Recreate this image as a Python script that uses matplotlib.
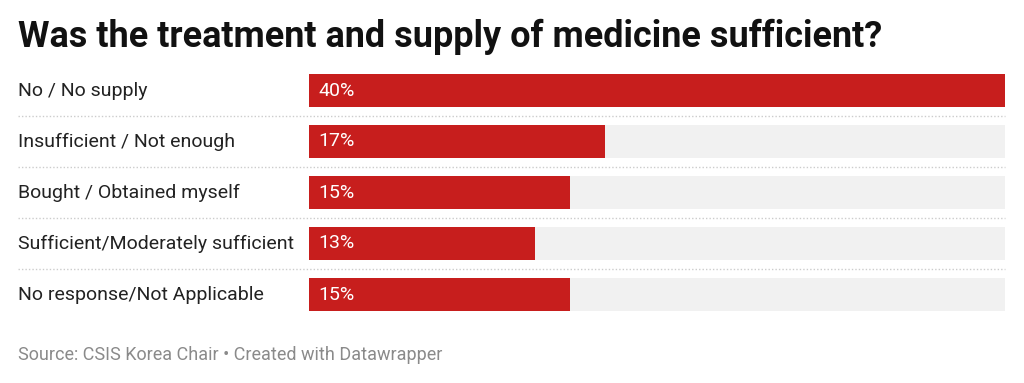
import matplotlib.pyplot as plt
import matplotlib.transforms as mtransforms

categories = ['No / No supply', 'Insufficient / Not enough', 'Bought / Obtained myself',
              'Sufficient/Moderately sufficient', 'No response/Not Applicable']
values = [40, 17, 15, 13, 15]
value_labels = ['40%', '17%', '15%', '13%', '15%']

plt.rcParams['font.family'] = ['Roboto', 'DejaVu Sans']

W, H = 1024, 383
fig = plt.figure(figsize=(W / 100, H / 100), dpi=100)

# plot area in pixels: x 309..1005, y 65..320
ax = fig.add_axes([309 / W, 1 - 320 / H, 696 / W, 255 / H])
ax.set_xlim(0, max(values))
ax.set_ylim(len(categories) - 0.5, -0.5)
ax.axis('off')

bar_h = 33 / 51
ypos = list(range(len(categories)))
ax.barh(ypos, [max(values)] * len(values), height=bar_h, color='#f1f1f1', zorder=1)
ax.barh(ypos, values, height=bar_h, color='#c71e1d', zorder=2)

trans = mtransforms.blended_transform_factory(ax.transAxes, ax.transData)
left = (18 - 309) / 696
for i, (cat, lab) in enumerate(zip(categories, value_labels)):
    ax.text(left, i, cat, transform=trans, ha='left', va='center', fontsize=14, color='#222222')
    ax.text(9 / 696, i, lab, transform=trans, ha='left', va='center', fontsize=14,
            color='white', zorder=3)
    if i < len(categories) - 1:
        ax.plot([left, 1], [i + 0.5, i + 0.5], transform=trans, color='#cccccc',
                lw=1, ls=(0, (1, 1.5)), clip_on=False)

fig.text(18 / W, 1 - 37 / H, 'Was the treatment and supply of medicine sufficient?',
         fontsize=25.9, fontweight='bold', color='#111111', ha='left', va='center')
fig.text(18 / W, 1 - 355 / H, 'Source: CSIS Korea Chair \u2022 Created with Datawrapper',
         fontsize=13, color='#8a8a8a', ha='left', va='center')

fig.savefig('out.png', dpi=100)
